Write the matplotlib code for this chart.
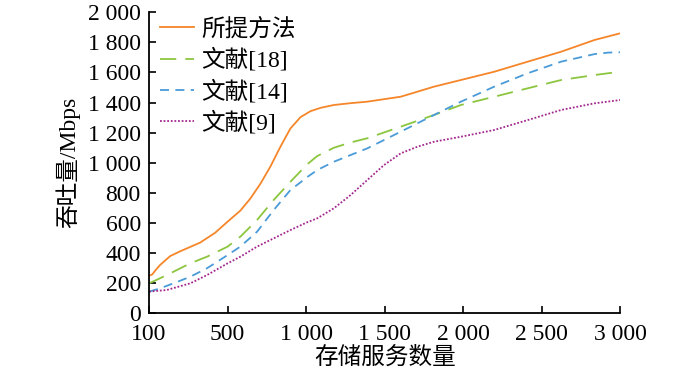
import matplotlib
matplotlib.use("Agg")
import matplotlib.pyplot as plt

plt.rcParams['font.family'] = ['Liberation Serif', 'Noto Sans CJK SC']

# x axis is categorical: equally spaced ticks
x_labels = ['100', '500', '1 000', '1 500', '2 000', '2 500', '3 000']
y_ticks = list(range(0, 2001, 200))
y_labels = ['0', '200', '400', '600', '800', '1 000', '1 200', '1 400', '1 600', '1 800', '2 000']

# values, x in tick-position units
prop_x = [0, 0.04, 0.08, 0.14, 0.268, 0.396, 0.651, 0.841, 1.0, 1.162, 1.289, 1.417, 1.545,
          1.673, 1.8, 1.928, 2.056, 2.184, 2.354, 2.567, 2.78, 3.206, 3.631, 3.972, 4.397,
          4.824, 5.249, 5.674, 6.0]
prop_y = [250, 258, 285, 321, 380, 412, 470, 535, 609, 682, 762, 860, 975,
          1107, 1228, 1303, 1343, 1365, 1384, 1396, 1406, 1439, 1506, 1550, 1605,
          1672, 1738, 1816, 1860]

ref18_x = [0, 0.14, 0.31, 0.524, 0.737, 1.0, 1.162, 1.375, 1.587, 1.8, 2.014, 2.142, 2.354,
           2.567, 2.78, 3.206, 3.631, 3.972, 4.397, 4.824, 5.249, 5.674, 6.0]
ref18_y = [199, 233, 276, 332, 376, 443, 509, 620, 753, 874, 990, 1045, 1100,
           1135, 1163, 1240, 1318, 1384, 1439, 1495, 1550, 1583, 1605]

ref14_x = [0, 0.14, 0.31, 0.524, 0.737, 1.0, 1.162, 1.375, 1.587, 1.8, 1.928, 2.014, 2.142,
           2.354, 2.78, 3.206, 3.631, 3.972, 4.397, 4.824, 5.249, 5.674, 5.85, 6.0]
ref14_y = [144, 166, 199, 243, 299, 387, 443, 542, 686, 819, 870, 905, 952,
           1007, 1096, 1207, 1318, 1406, 1506, 1595, 1672, 1722, 1732, 1734]

ref9_x = [0, 0.226, 0.524, 0.737, 1.0, 1.162, 1.375, 1.587, 1.8, 2.014, 2.142, 2.354, 2.567,
          2.78, 2.992, 3.206, 3.419, 3.631, 3.972, 4.397, 4.824, 5.249, 5.674, 6.0]
ref9_y = [144, 155, 199, 254, 332, 376, 443, 498, 553, 605, 631, 698, 786,
          886, 985, 1063, 1107, 1140, 1173, 1218, 1284, 1351, 1395, 1417]

fig = plt.figure(figsize=(7, 3.71), dpi=100)
ax = fig.add_axes([0.213, 0.1555, 0.673, 0.8115])

ax.plot(prop_x, prop_y, color='#F5862A', lw=1.3, label='所提方法')
ax.plot(ref18_x, ref18_y, color='#8CC63F', lw=1.3, dashes=(9, 5), label='文献[18]')
ax.plot(ref14_x, ref14_y, color='#4A9BD8', lw=1.3, dashes=(5, 3.5), label='文献[14]')
ax.plot(ref9_x, ref9_y, color='#A3288E', lw=1.3, dashes=(1, 1), label='文献[9]')

ax.set_xlim(0, 6)
ax.set_ylim(0, 2000)
ax.set_xticks(range(len(x_labels)))
ax.set_xticklabels(x_labels)
ax.set_yticks(y_ticks)
ax.set_yticklabels(y_labels)
ax.tick_params(direction='in', length=5, width=1.2, labelsize=17)
ax.tick_params(axis='x', pad=8)
ax.tick_params(axis='y', pad=6)

for s in ['top', 'right']:
    ax.spines[s].set_visible(False)
for s in ['left', 'bottom']:
    ax.spines[s].set_linewidth(1.3)

ax.set_xlabel('存储服务数量', fontsize=17, labelpad=1)
ax.set_ylabel('吞吐量/Mbps', fontsize=17, labelpad=5)

ax.legend(loc='upper left', bbox_to_anchor=(-0.012, 1.035), frameon=False, fontsize=17,
          handlelength=1.45, handletextpad=0.3, labelspacing=0.32, borderaxespad=0.3)

fig.savefig('out.png', dpi=100)
